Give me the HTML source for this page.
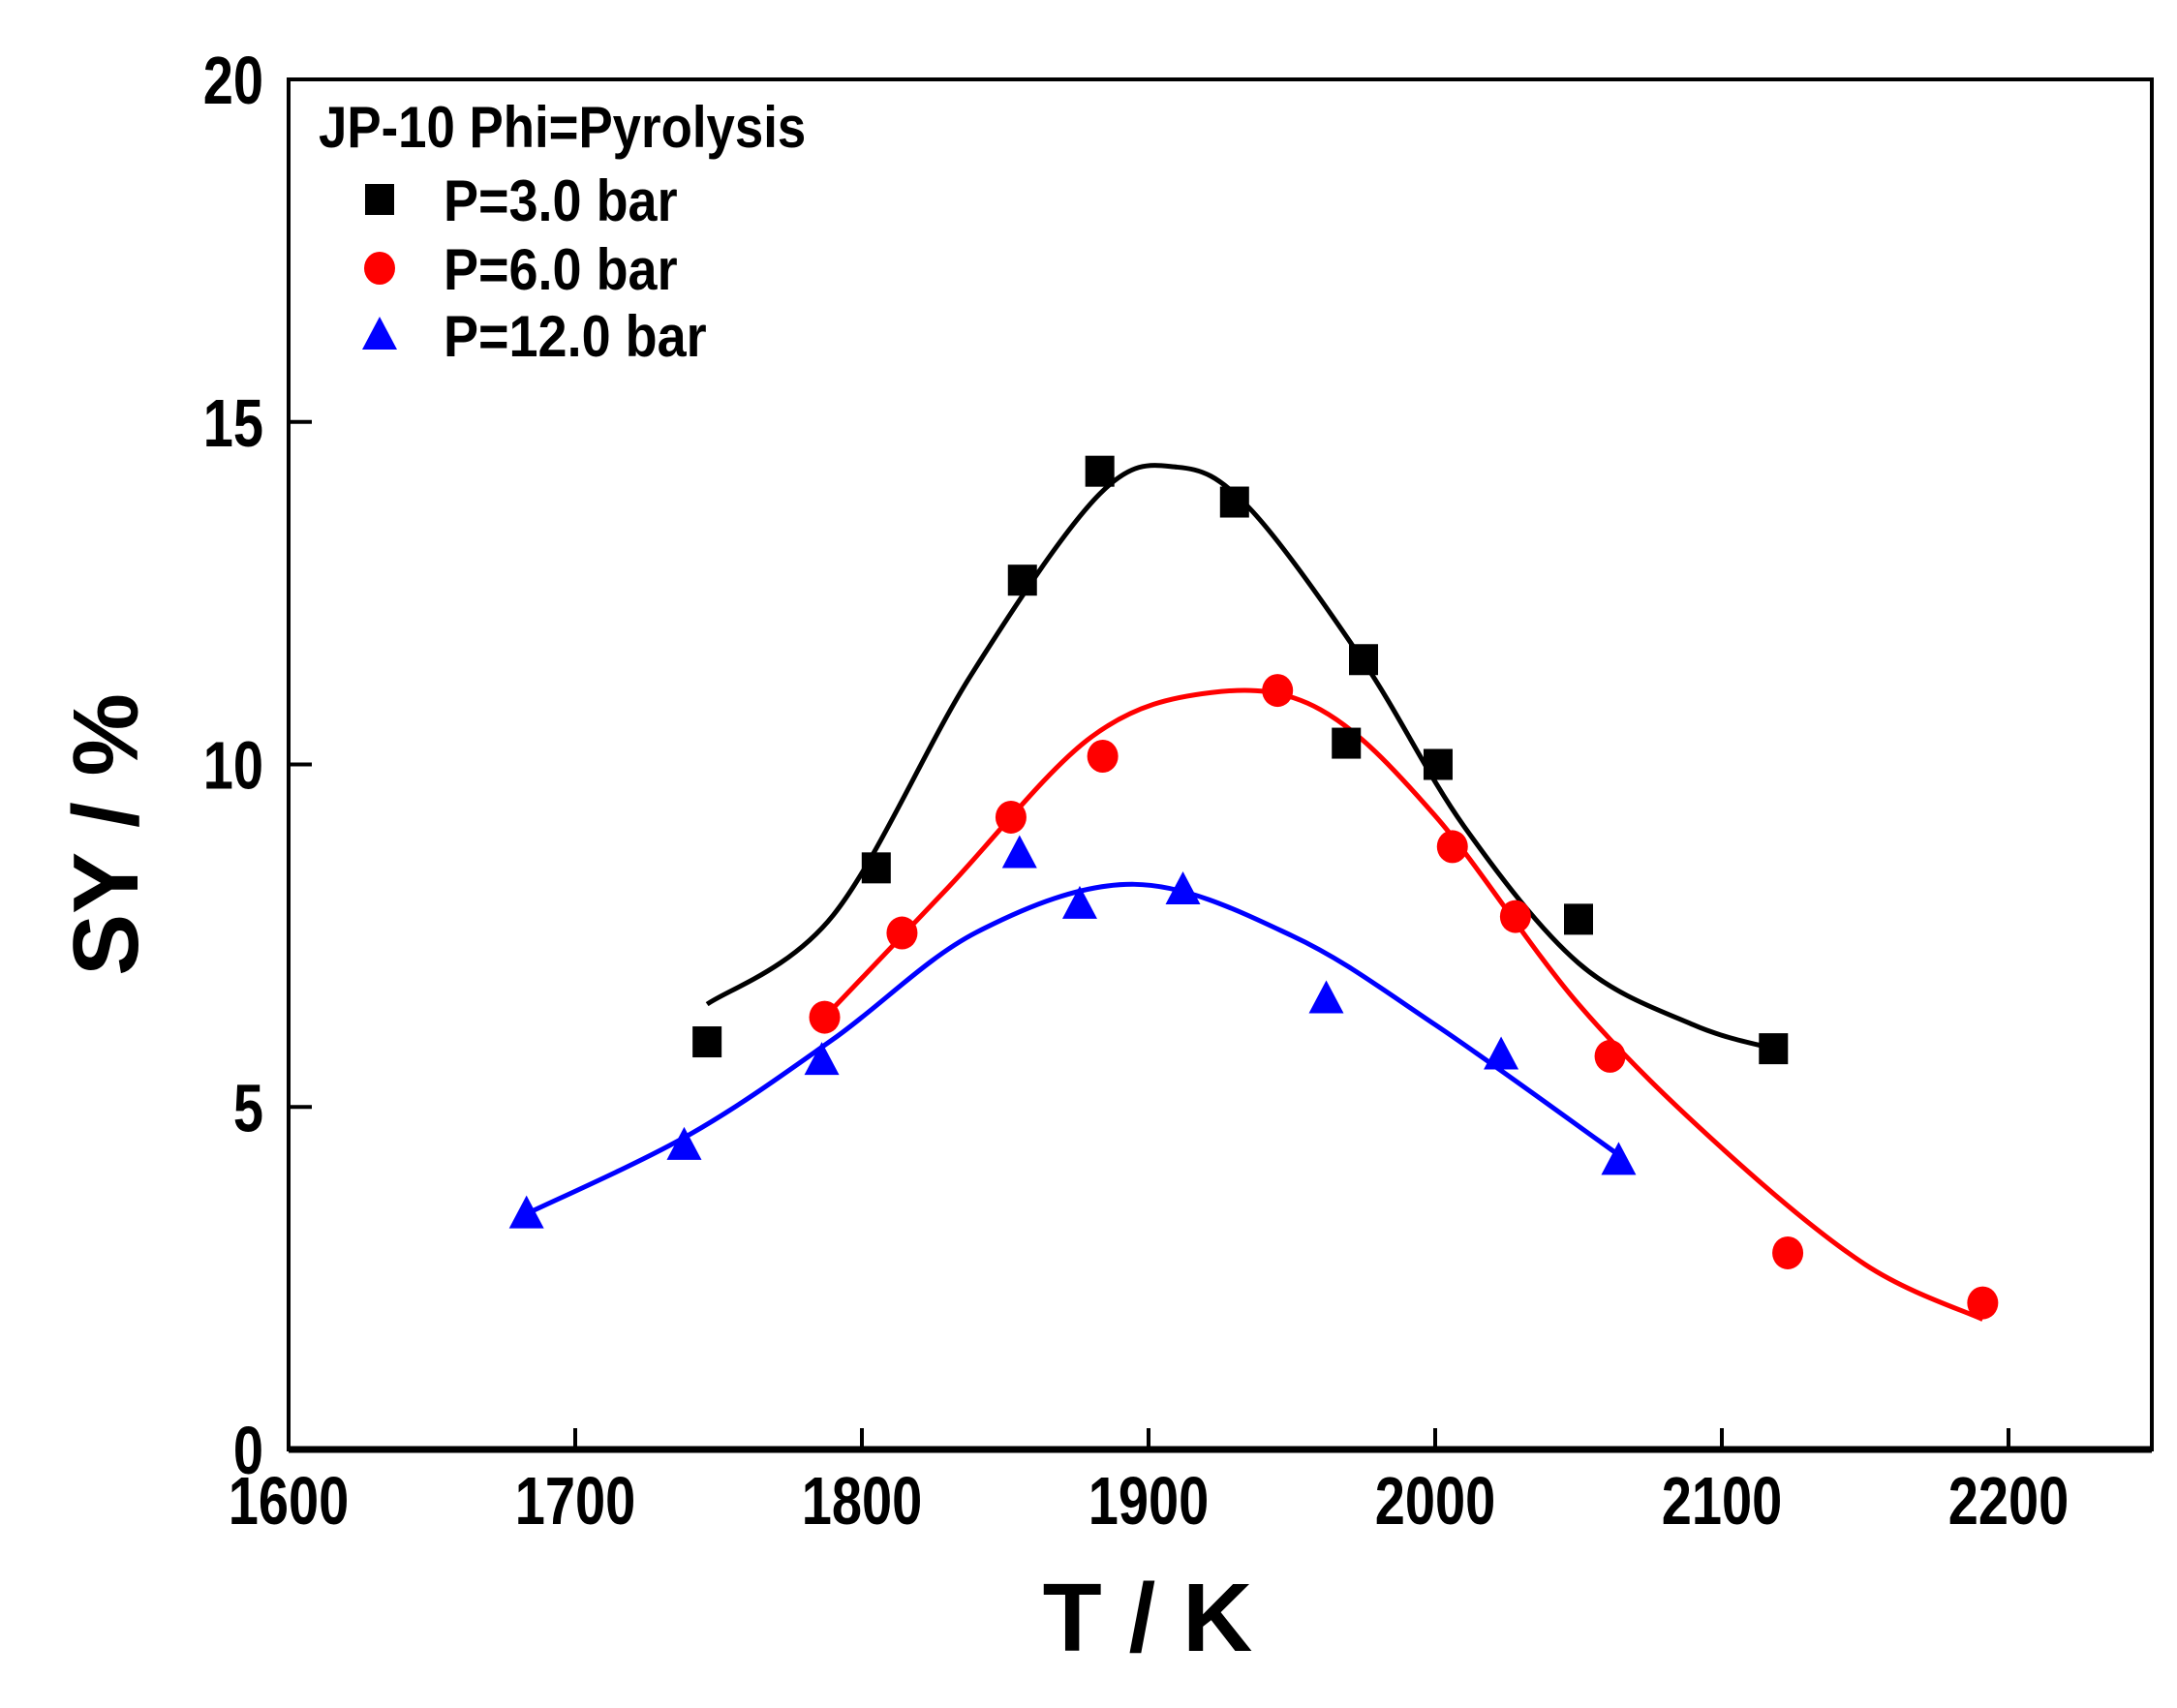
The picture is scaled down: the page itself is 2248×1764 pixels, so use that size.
<!DOCTYPE html>
<html><head><meta charset="utf-8"><style>
html,body{margin:0;padding:0;background:#fff;}
svg{display:block;}
text{font-family:"Liberation Sans",sans-serif;font-weight:bold;fill:#000;}
</style></head><body>
<svg id="chart" width="2248" height="1764" viewBox="0 0 2248 1764" xmlns="http://www.w3.org/2000/svg">
<g id="plot"></g>
</svg>
<script>
const xTicks = [1600,1700,1800,1900,2000,2100,2200];
const yTicks = [0,5,10,15,20];
const t3 = [1746,1805,1856,1883,1930,1975,1969,2001,2050,2118];
const sy3 = [5.95,8.49,12.69,14.28,13.83,11.53,10.31,10.0,7.74,5.85];
const fitT3 = [1746,1790,1838,1883,1910,1935,1975,2010,2050,2090,2118];
const fitSy3 = [6.5,7.8,11.3,13.95,14.34,13.75,11.5,9.1,7.1,6.2,5.85];
const t6 = [1787,1814,1852,1884,1945,2006,2028,2061,2123,2191];
const sy6 = [6.31,7.54,9.23,10.12,11.08,8.8,7.78,5.74,2.87,2.14];
const fitT6 = [1787,1830,1880,1922,1960,2000,2050,2100,2150,2191];
const fitSy6 = [6.31,8.2,10.4,11.05,10.8,9.25,6.5,4.4,2.7,1.9];
const t12 = [1683,1738,1786,1855,1876,1912,1962,2023,2064];
const sy12 = [3.44,4.44,5.68,8.7,7.96,8.17,6.58,5.76,4.22];
const fitT12 = [1683,1740,1790,1840,1895,1950,2000,2064];
const fitSy12 = [3.44,4.6,5.99,7.55,8.25,7.5,6.2,4.3];

const X0=298, X1=2222, Y0=1497, Y1=82, TMIN=1600, TMAX=2250, SMIN=0, SMAX=20;
const xs = t => X0 + (t-TMIN)/(TMAX-TMIN)*(X1-X0);
const ys = v => Y0 - (v-SMIN)/(SMAX-SMIN)*(Y0-Y1);
const NS="http://www.w3.org/2000/svg";
const g=document.getElementById('plot');
function mk(tag,attrs,parent){const e=document.createElementNS(NS,tag);for(const k in attrs)e.setAttribute(k,attrs[k]);(parent||g).appendChild(e);return e;}

let fr=mk('rect',{x:X0,y:Y1,width:X1-X0,height:Y0-Y1,fill:'none',stroke:'#000','stroke-width':4});


let bax=mk('line',{x1:X0,y1:Y0,x2:X1,y2:Y0,stroke:'#000','stroke-width':7});



xTicks.forEach(t=>{
  const x=xs(t);
  let l=mk('line',{x1:x,y1:Y0,x2:x,y2:Y0-22,stroke:'#000','stroke-width':4});
  
  
  let tx=mk('text',{x:0,y:0,'font-size':70,'text-anchor':'middle',transform:`translate(${x},1574) scale(0.8,1)`});
  tx.textContent=t;
  
  
});
yTicks.forEach(v=>{
  const y=ys(v);
  let l=mk('line',{x1:X0,y1:y,x2:X0+24,y2:y,stroke:'#000','stroke-width':4});
  
  
  let tx=mk('text',{x:0,y:0,'font-size':70,'text-anchor':'end',transform:`translate(272,${y+25}) scale(0.8,1)`});
  tx.textContent=v;
  
  
});
let xt=mk('text',{x:1185,y:1705,'font-size':100,'text-anchor':'middle'});
xt.textContent='T / K';


let yt=mk('text',{x:0,y:0,'font-size':96,'text-anchor':'middle',transform:'translate(142,862) rotate(-90)'});
yt.textContent='SY / %';



function smooth(tx,ty){
  const p=tx.map((t,i)=>[xs(t),ys(ty[i])]);
  let d=`M${p[0][0]},${p[0][1]}`;
  for(let i=0;i<p.length-1;i++){
    const p0=p[Math.max(0,i-1)],p1=p[i],p2=p[i+1],p3=p[Math.min(p.length-1,i+2)];
    const c1=[p1[0]+(p2[0]-p0[0])/6,p1[1]+(p2[1]-p0[1])/6];
    const c2=[p2[0]-(p3[0]-p1[0])/6,p2[1]-(p3[1]-p1[1])/6];
    d+=` C${c1[0]},${c1[1]} ${c2[0]},${c2[1]} ${p2[0]},${p2[1]}`;
  }
  return d;
}
function curve(tx,ty,color,name){
  let c=mk('path',{d:smooth(tx,ty),fill:'none',stroke:color,'stroke-width':5});
  
  
}
curve(fitT3,fitSy3,'#000','fit-curve-3bar');
curve(fitT6,fitSy6,'#f00','fit-curve-6bar');
curve(fitT12,fitSy12,'#00f','fit-curve-12bar');

function square(x,y,parent){return mk('rect',{x:x-15,y:y-16,width:30,height:32,fill:'#000'},parent);}
function circle(x,y,parent){return mk('ellipse',{cx:x,cy:y,rx:16,ry:17,fill:'#f00'},parent);}
function tri(x,y,parent){return mk('polygon',{points:`${x},${y-19} ${x-18},${y+15} ${x+18},${y+15}`,fill:'#00f'},parent);}
t3.forEach((t,i)=>{const e=square(xs(t),ys(sy3[i]));
  
  });
t6.forEach((t,i)=>{const e=circle(xs(t),ys(sy6[i]));
  
  });
t12.forEach((t,i)=>{const e=tri(xs(t),ys(sy12[i]));
  
  });

const lg=mk('g',{});


let lt=mk('text',{x:0,y:0,'font-size':60,transform:'translate(329,152) scale(0.88,1)'},lg);
lt.textContent='JP-10 Phi=Pyrolysis';


const legLabels=['P=3.0 bar','P=6.0 bar','P=12.0 bar'];
const legFns=[square,circle,tri];
const legY=[206,277,346];
legLabels.forEach((s,i)=>{
  const m=legFns[i](392,legY[i],lg);
  
  
  const t=mk('text',{x:0,y:0,'font-size':60,transform:`translate(458,${legY[i]+22}) scale(0.9,1)`},lg);
  t.textContent=s;
  
  
});
</script>
</body></html>
